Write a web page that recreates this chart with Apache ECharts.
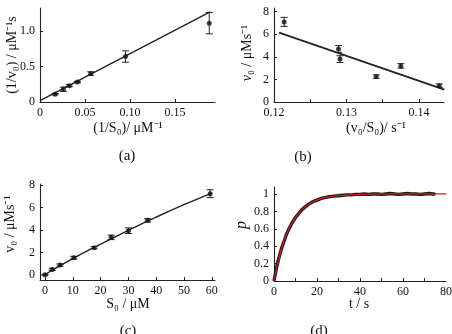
<!DOCTYPE html>
<html>
<head>
<meta charset="utf-8">
<script src="https://cdn.jsdelivr.net/npm/echarts@6/dist/echarts.min.js"></script>
<style>
  html, body { margin: 0; padding: 0; background: #fff; }
  #main { width: 452px; height: 334px; }
</style>
</head>
<body>
<div id="main"></div>
<script>
// (a) 双倒数图 1/v0 - 1/S0
var invS = [0.0167, 0.026, 0.0326, 0.0415, 0.0563, 0.095, 0.188];
var invV = [0.11, 0.18, 0.23, 0.28, 0.40, 0.64, 1.11];
var invVErr = [0.01, 0.03, 0.015, 0.01, 0.025, 0.08, 0.15];
var fitAx = [0, 0.189];
var fitAy = [0.02, 1.27];

// (b) v0 - v0/S0
var vOverS = [0.1214, 0.1289, 0.1291, 0.1341, 0.1375, 0.1428];
var vB = [7.1, 4.7, 3.8, 2.25, 3.2, 1.45];
var vBErr = [0.4, 0.3, 0.3, 0.15, 0.2, 0.15];
var fitBx = [0.1207, 0.1435];
var fitBy = [6.15, 1.1];

// (c) v0 - S0
var S0 = [0, 2.6, 5.4, 10.4, 17.7, 23.8, 30.0, 36.9, 59.4];
var vC = [0.03, 0.5, 0.89, 1.54, 2.43, 3.35, 3.94, 4.86, 7.23];
var vCErr = [0.05, 0.1, 0.1, 0.12, 0.1, 0.2, 0.25, 0.15, 0.35];
var fitCx = [0, 10, 20, 30, 40, 50, 60];
var fitCy = [0.05, 1.45, 2.75, 3.98, 5.15, 6.25, 7.28];

// (d) p - t
var tData = [0, 1, 2, 3, 4, 5, 6, 7, 8, 9, 10, 11, 12, 13, 14, 15, 16, 17, 18, 19, 20,
  22, 24, 26, 28, 30, 32, 34, 36, 38, 40, 42, 44, 46, 48, 50, 52, 54, 56, 58, 60,
  62, 64, 66, 68, 70, 72, 74, 75];
var pData = [0, 0.13, 0.24, 0.33, 0.41, 0.48, 0.55, 0.60, 0.65, 0.69, 0.73, 0.76, 0.79, 0.82, 0.84, 0.86, 0.88, 0.895, 0.91, 0.92, 0.93,
  0.95, 0.96, 0.97, 0.975, 0.98, 0.985, 0.99, 0.99, 0.995, 0.995, 1.0, 0.995, 1.0, 1.0, 0.995, 1.0, 1.005, 1.0, 0.995, 1.0,
  1.005, 1.0, 1.0, 0.995, 1.0, 1.005, 1.0, 1.0];
var tFit = [0, 2, 4, 6, 8, 10, 12, 14, 16, 18, 20, 24, 28, 32, 36, 40, 50, 60, 70, 80];
var pFit = [0, 0.23, 0.41, 0.55, 0.65, 0.73, 0.79, 0.84, 0.88, 0.91, 0.93, 0.96, 0.975, 0.985, 0.99, 0.995, 1.0, 1.0, 1.0, 1.0];

var FONT = 'Liberation Serif';
var INK = '#111';

function zip(xs, ys, es) {
  return xs.map(function (x, i) { return es ? [x, ys[i], es[i]] : [x, ys[i]]; });
}

function axis(gridIndex, min, max, labels, ticks, fmt) {
  return {
    type: 'value', gridIndex: gridIndex, min: min, max: max,
    splitLine: { show: false },
    axisLine: { onZero: false, lineStyle: { color: '#222', width: 1.1 } },
    axisTick: { inside: true, length: 3, customValues: ticks, lineStyle: { color: '#222' } },
    axisLabel: { customValues: labels, formatter: fmt, fontFamily: FONT, fontSize: 12, color: INK, margin: 5 }
  };
}

// 误差棒
function errSeries(idx, data) {
  return {
    type: 'custom', xAxisIndex: idx, yAxisIndex: idx, data: data, z: 3,
    renderItem: function (params, api) {
      var x = api.value(0), y = api.value(1), e = api.value(2);
      var top = api.coord([x, y + e]);
      var bot = api.coord([x, y - e]);
      var st = { stroke: '#222', lineWidth: 1 };
      return {
        type: 'group', children: [
          { type: 'line', shape: { x1: top[0], y1: top[1], x2: bot[0], y2: bot[1] }, style: st },
          { type: 'line', shape: { x1: top[0] - 3.5, y1: top[1], x2: top[0] + 3.5, y2: top[1] }, style: st },
          { type: 'line', shape: { x1: bot[0] - 3.5, y1: bot[1], x2: bot[0] + 3.5, y2: bot[1] }, style: st }
        ]
      };
    }
  };
}

function dots(idx, data) {
  return { type: 'scatter', xAxisIndex: idx, yAxisIndex: idx, data: data, symbol: 'circle', symbolSize: 5,
    itemStyle: { color: '#111' }, z: 4, silent: true };
}

function fit(idx, data, color, width, smooth) {
  return { type: 'line', xAxisIndex: idx, yAxisIndex: idx, data: data, showSymbol: false, smooth: !!smooth,
    lineStyle: { color: color, width: width }, z: 2, silent: true };
}

function txt(x, y, s, opt) {
  opt = opt || {};
  return {
    type: 'text', x: x, y: y, rotation: opt.rot || 0,
    style: {
      text: s, fill: INK, font: (opt.italic ? 'italic ' : '') + (opt.size || 14) + 'px "' + FONT + '"',
      textAlign: 'center', textVerticalAlign: 'middle', rich: opt.rich
    }
  };
}

var myChart = echarts.init(document.getElementById('main'));
var option = {
  animation: false,
  grid: [
    { left: 40, top: 8, width: 175, height: 94, outerBoundsMode: 'none' },
    { left: 274, top: 8, width: 170, height: 94, outerBoundsMode: 'none' },
    { left: 40, top: 184, width: 175, height: 96, outerBoundsMode: 'none' },
    { left: 274, top: 187, width: 172, height: 94, outerBoundsMode: 'none' }
  ],
  xAxis: [
    axis(0, 0, 0.1944, [0, 0.05, 0.1, 0.15], [0.05, 0.1, 0.15], function (v) { return v === 0 ? '0' : v.toFixed(2); }),
    axis(1, 0.12, 0.14345, [0.12, 0.13, 0.14], [0.125, 0.13, 0.135, 0.14], function (v) { return v.toFixed(2); }),
    axis(2, -1.8, 61.15, [0, 10, 20, 30, 40, 50, 60], [0, 10, 20, 30, 40, 50, 60]),
    axis(3, 0, 80, [0, 20, 40, 60, 80], [10, 20, 30, 40, 50, 60, 70])
  ],
  yAxis: [
    axis(0, 0, 1.324, [0, 0.5, 1.0], [0.5, 1.0], function (v) { return v === 0 ? '0' : v.toFixed(1); }),
    axis(1, 0, 8.33, [0, 2, 4, 6, 8], [2, 4, 6, 8]),
    axis(2, -0.44, 8.09, [0, 2, 4, 6, 8], [2, 4, 6, 8]),
    axis(3, 0, 1.08, [0, 0.2, 0.4, 0.6, 0.8, 1], [0.2, 0.4, 0.6, 0.8, 1])
  ],
  series: [
    fit(0, zip(fitAx, fitAy), '#222', 1.4),
    errSeries(0, zip(invS, invV, invVErr)),
    dots(0, zip(invS, invV)),

    fit(1, zip(fitBx, fitBy), '#222', 1.7),
    errSeries(1, zip(vOverS, vB, vBErr)),
    dots(1, zip(vOverS, vB)),

    fit(2, zip(fitCx, fitCy), '#222', 1.4, true),
    errSeries(2, zip(S0, vC, vCErr)),
    dots(2, zip(S0, vC)),

    fit(3, zip(tData, pData), '#1a1a1a', 3.4),
    fit(3, zip(tFit, pFit), '#c0202a', 1.3, true)
  ],
  graphic: [
    txt(12, 55, '(1/v₀) / μM⁻¹s', { rot: Math.PI / 2 }),
    txt(128, 128, '(1/S₀)/ μM⁻¹'),
    txt(127, 156, '(a)', { size: 15 }),

    txt(247, 53, '{i|v}₀ / μMs⁻¹', { rot: Math.PI / 2, rich: { i: { fontStyle: 'italic', fontFamily: FONT, fontSize: 14 } } }),
    txt(376, 128, '(v₀/S₀)/ s⁻¹'),
    txt(303, 157, '(b)', { size: 15 }),

    txt(10, 224, 'v₀ / μMs⁻¹', { rot: Math.PI / 2 }),
    txt(128, 304, 'S₀ / μM'),
    txt(128, 331, '(c)', { size: 15 }),

    txt(242, 225, 'p', { rot: Math.PI / 2, italic: true, size: 16 }),
    txt(359, 304, 't / s'),
    txt(319, 331, '(d)', { size: 15 })
  ]
};
myChart.setOption(option);
</script>
</body>
</html>
